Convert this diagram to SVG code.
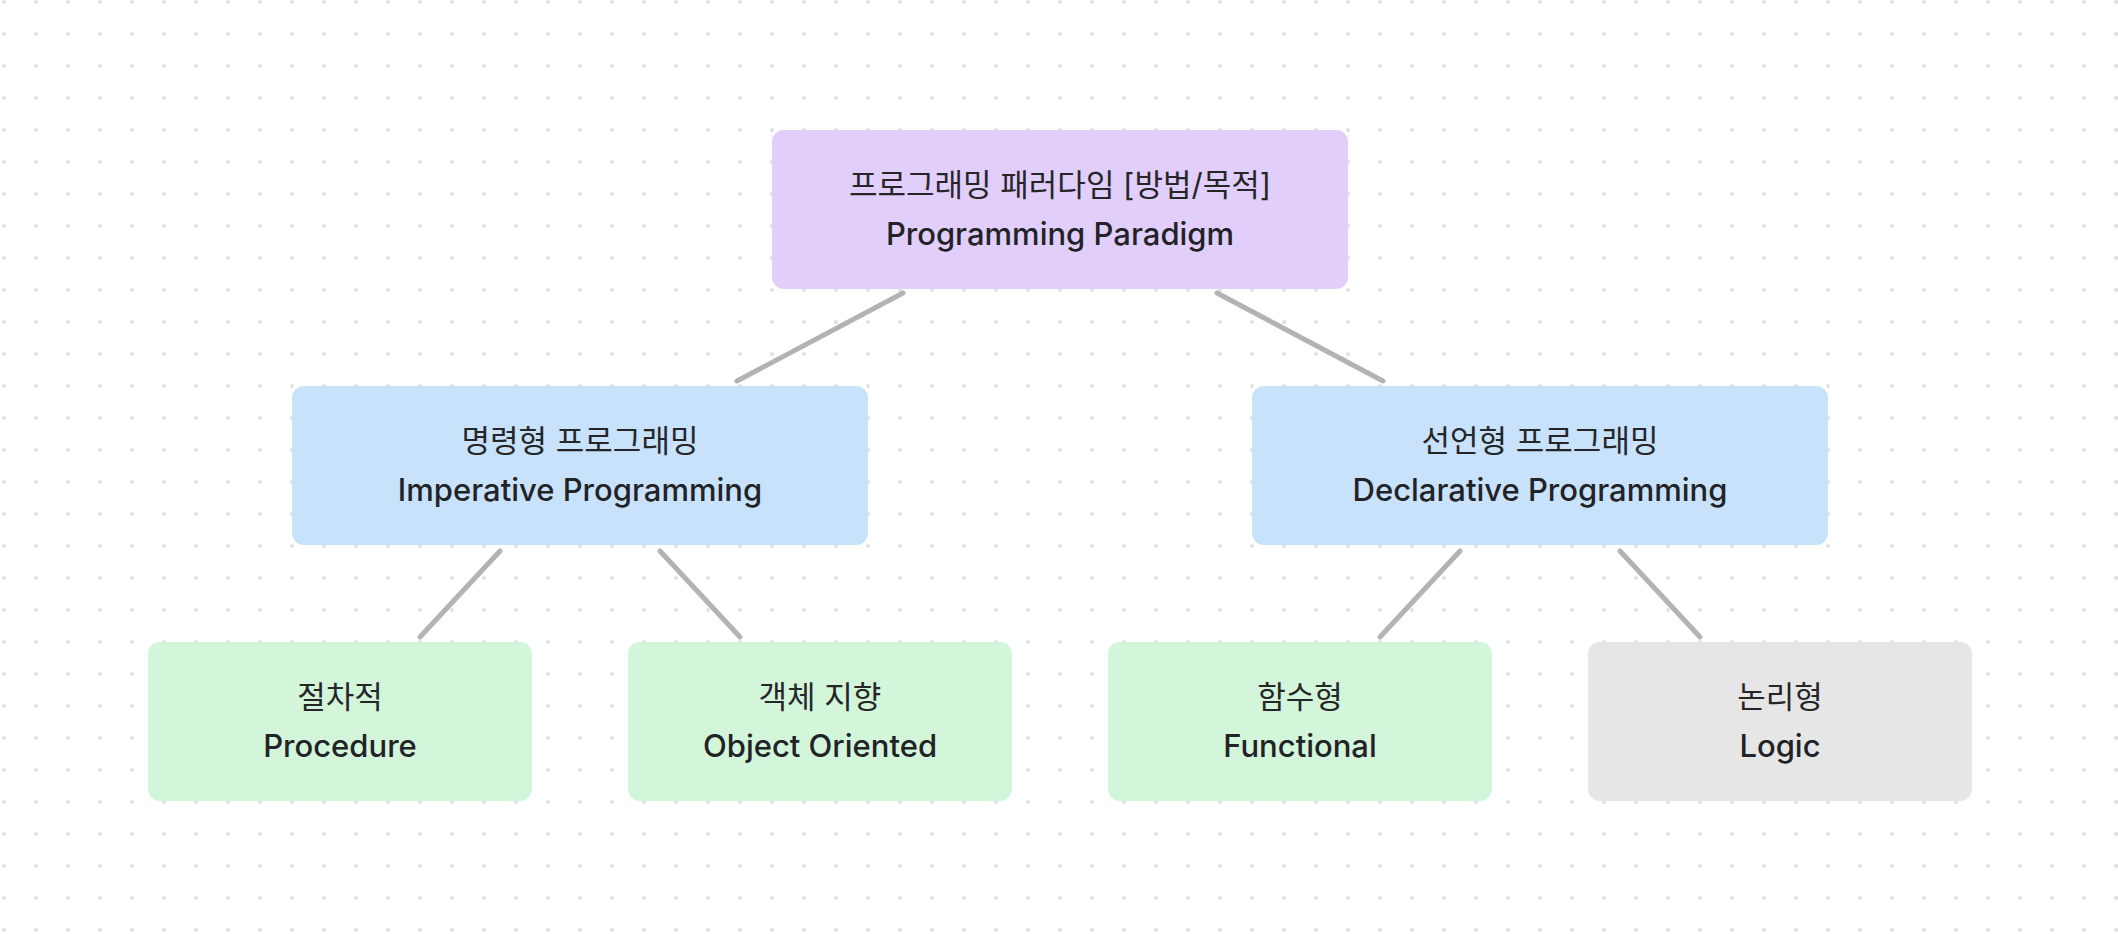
<svg xmlns="http://www.w3.org/2000/svg" width="2118" height="934" viewBox="0 0 2118 934">
  <style>
    .node { stroke: none; fill-opacity: 0.94; }
    .purple { fill: #dfcbfa; }
    .blue { fill: #c3e0fa; }
    .green { fill: #d0f4d8; }
    .gray { fill: #e4e4e4; }
    .ko { font-family: "Inter", "Noto Sans CJK KR", sans-serif; font-size: 31px; font-weight: 400; fill: #262629; text-anchor: middle; }
    .en { font-family: "Inter", "Noto Sans CJK KR", sans-serif; font-size: 31px; font-weight: 450; fill: #222327; text-anchor: middle; }
    .edge { stroke: #b3b3b3; stroke-width: 5; stroke-linecap: round; fill: none; }
  </style>
  <defs>
    <pattern id="dots" patternUnits="userSpaceOnUse" width="32" height="32">
      <circle cx="4" cy="2" r="2" fill="#e0e0e0"/>
    </pattern>
  </defs>
  <rect x="0" y="0" width="2118" height="934" fill="#ffffff"/>
  <rect x="0" y="0" width="2118" height="934" fill="url(#dots)"/>

  <g id="connectors">
    <line class="edge" x1="903" y1="293" x2="737" y2="381"/>
    <line class="edge" x1="1217" y1="293" x2="1383" y2="381"/>
    <line class="edge" x1="500" y1="551" x2="420" y2="637"/>
    <line class="edge" x1="660" y1="551" x2="740" y2="637"/>
    <line class="edge" x1="1460" y1="551" x2="1380" y2="637"/>
    <line class="edge" x1="1620" y1="551" x2="1700" y2="637"/>
  </g>

  <g id="node-paradigm">
    <rect class="node purple" x="772" y="130" width="576" height="159" rx="12"/>
    <text class="ko" x="1060" y="196">프로그래밍 패러다임 [방법/목적]</text>
    <text class="en" x="1060" y="245">Programming Paradigm</text>
  </g>

  <g id="node-imperative">
    <rect class="node blue" x="292" y="386" width="576" height="159" rx="12"/>
    <text class="ko" x="580" y="452">명령형 프로그래밍</text>
    <text class="en" x="580" y="501">Imperative Programming</text>
  </g>

  <g id="node-declarative">
    <rect class="node blue" x="1252" y="386" width="576" height="159" rx="12"/>
    <text class="ko" x="1540" y="452">선언형 프로그래밍</text>
    <text class="en" x="1540" y="501">Declarative Programming</text>
  </g>

  <g id="node-procedure">
    <rect class="node green" x="148" y="642" width="384" height="159" rx="12"/>
    <text class="ko" x="340" y="708">절차적</text>
    <text class="en" x="340" y="757">Procedure</text>
  </g>

  <g id="node-oop">
    <rect class="node green" x="628" y="642" width="384" height="159" rx="12"/>
    <text class="ko" x="820" y="708">객체 지향</text>
    <text class="en" x="820" y="757">Object Oriented</text>
  </g>

  <g id="node-functional">
    <rect class="node green" x="1108" y="642" width="384" height="159" rx="12"/>
    <text class="ko" x="1300" y="708">함수형</text>
    <text class="en" x="1300" y="757">Functional</text>
  </g>

  <g id="node-logic">
    <rect class="node gray" x="1588" y="642" width="384" height="159" rx="12"/>
    <text class="ko" x="1780" y="708">논리형</text>
    <text class="en" x="1780" y="757">Logic</text>
  </g>
</svg>
